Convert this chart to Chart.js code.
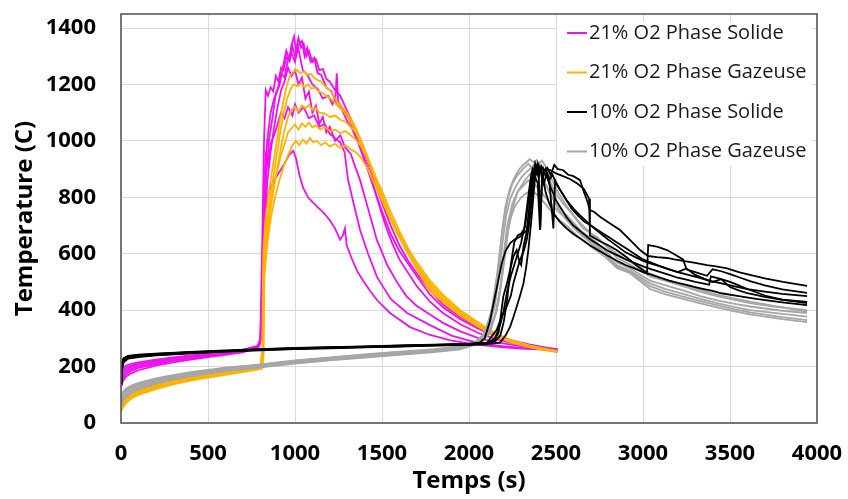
<!DOCTYPE html>
<html lang="fr">
<head>
<meta charset="utf-8">
<title>Temperature (C) / Temps (s)</title>
<script src="https://cdn.jsdelivr.net/npm/chart.js@4.4.0/dist/chart.umd.min.js"></script>
<style>
  html, body { margin: 0; padding: 0; background: #fff; }
  #wrap { width: 848px; height: 499px; }
</style>
</head>
<body>
<div id="wrap"><canvas id="chart" width="848" height="499"></canvas></div>
<script>
// ── Axis ticks ───────────────────────────────────────────────
const xTickValues = [0, 500, 1000, 1500, 2000, 2500, 3000, 3500, 4000];
const yTickValues = [0, 200, 400, 600, 800, 1000, 1200, 1400];

// ── Legend ───────────────────────────────────────────────────
const groupLabels = ['21% O2 Phase Solide', '21% O2 Phase Gazeuse', '10% O2 Phase Solide', '10% O2 Phase Gazeuse'];
const groupColors = ['#ee11ee', '#ffb300', '#000000', '#a6a6a6'];

// ── 21% O2, phase solide : [temps (s), température (C)] ──────
const sol21a = [[0,180],[10,195],[30,204],[60,210],[100,215],[200,225],[300,233],[400,240],[500,247],[600,253],[700,260],[780,270],[800,290],[812,650],[822,1000],[832,1180],[845,1160],[860,1190],[875,1175],[890,1230],[905,1210],[920,1260],[935,1250],[950,1300],[965,1285],[980,1340],[995,1370],[1005,1320],[1020,1365],[1035,1330],[1050,1345],[1065,1300],[1080,1320],[1100,1280],[1120,1290],[1140,1250],[1160,1255],[1180,1220],[1200,1210],[1230,1180],[1260,1160],[1290,1120],[1320,1080],[1350,1040],[1380,990],[1420,920],[1460,850],[1500,780],[1550,700],[1600,630],[1650,575],[1700,530],[1776,470],[1850,420],[1950,375],[2050,340],[2150,312],[2250,292],[2350,278],[2450,266],[2510,262]];
const sol21b = [[0,155],[10,178],[30,190],[60,199],[100,206],[200,218],[300,228],[400,236],[500,243],[600,250],[700,258],[785,268],[805,300],[815,600],[825,850],[840,1000],[860,1100],[880,1150],[900,1180],[920,1240],[940,1225],[960,1290],[980,1310],[1000,1280],[1020,1340],[1040,1355],[1055,1300],[1070,1330],[1090,1280],[1110,1295],[1130,1240],[1150,1235],[1180,1190],[1210,1175],[1240,1130],[1270,1110],[1300,1070],[1330,1040],[1360,1000],[1400,930],[1450,840],[1500,750],[1550,670],[1600,610],[1700,520],[1776,455],[1850,410],[1950,368],[2050,335],[2150,308],[2250,290],[2350,276],[2450,265],[2510,260]];
const sol21c = [[0,145],[10,168],[30,182],[60,192],[100,200],[200,213],[300,223],[400,232],[500,240],[600,247],[700,255],[790,270],[805,310],[815,500],[825,720],[835,880],[850,1000],[870,1080],[890,1170],[910,1195],[930,1260],[950,1320],[970,1285],[985,1335],[1000,1300],[1020,1325],[1045,1250],[1070,1235],[1100,1200],[1130,1185],[1160,1150],[1190,1160],[1215,1130],[1232,1150],[1240,1240],[1248,1140],[1280,1110],[1310,1080],[1340,1030],[1370,985],[1400,935],[1440,860],[1480,780],[1520,700],[1560,635],[1600,580],[1700,485],[1776,430],[1850,390],[1950,350],[2050,320],[2150,298],[2250,283],[2350,272],[2450,264],[2510,259]];
const sol21d = [[0,135],[10,158],[30,174],[60,186],[100,195],[200,209],[300,220],[400,229],[500,237],[600,244],[700,252],[795,273],[808,320],[818,520],[828,700],[840,850],[860,960],[880,1050],[900,1120],[920,1180],[940,1210],[960,1260],[980,1230],[1000,1250],[1020,1200],[1040,1225],[1060,1150],[1080,1175],[1100,1100],[1120,1125],[1140,1060],[1160,1085],[1180,1030],[1200,1050],[1230,1000],[1260,1020],[1290,975],[1320,955],[1345,910],[1374,861],[1420,760],[1470,650],[1530,560],[1590,495],[1640,450],[1700,415],[1776,385],[1850,355],[1950,325],[2050,302],[2150,287],[2250,277],[2350,268],[2450,262],[2510,258]];
const sol21e = [[0,165],[10,186],[30,197],[60,204],[100,210],[200,221],[300,230],[400,238],[500,245],[600,251],[700,259],[795,275],[805,300],[818,600],[830,950],[845,915],[860,990],[880,1020],[900,1060],[920,1100],[940,1080],[960,1120],[985,1090],[1000,1130],[1020,1100],[1050,1120],[1080,1080],[1110,1090],[1140,1050],[1170,1060],[1200,1025],[1230,1010],[1260,995],[1285,960],[1305,861],[1340,770],[1374,684],[1420,600],[1471,518],[1550,440],[1644,390],[1776,347],[1900,310],[2000,292],[2100,280],[2200,272],[2300,266],[2400,262],[2510,258]];
const sol21f = [[0,125],[10,148],[30,165],[60,177],[100,187],[200,203],[300,215],[400,225],[500,234],[600,242],[700,250],[785,268],[800,300],[812,450],[822,650],[835,780],[855,830],[880,860],[910,890],[940,920],[965,950],[990,965],[1005,940],[1025,880],[1046,835],[1075,800],[1103,782],[1130,765],[1161,748],[1201,718],[1230,690],[1259,650],[1275,665],[1287,690],[1297,630],[1325,585],[1356,540],[1391,505],[1430,470],[1471,436],[1546,390],[1661,340],[1776,312],[1900,292],[2000,282],[2100,274],[2200,268],[2300,264],[2400,261],[2510,258]];

// ── 21% O2, phase gazeuse ────────────────────────────────────
const gaz21a = [[0,55],[10,70],[30,88],[60,102],[100,115],[200,135],[300,150],[400,162],[500,172],[600,181],[700,190],[800,200],[812,260],[818,600],[830,720],[850,820],[870,900],[890,980],[910,1060],[930,1130],[950,1190],[970,1230],[990,1245],[1010,1252],[1030,1240],[1050,1246],[1070,1235],[1090,1238],[1110,1224],[1130,1216],[1150,1210],[1170,1196],[1190,1186],[1210,1172],[1241,1140],[1270,1120],[1300,1100],[1333,1065],[1360,1030],[1391,985],[1420,940],[1448,897],[1480,850],[1506,814],[1535,770],[1563,731],[1600,680],[1650,620],[1700,570],[1776,505],[1850,455],[1950,400],[2050,358],[2150,318],[2250,292],[2350,274],[2450,262],[2510,256]];
const gaz21b = [[0,48],[10,62],[30,80],[60,95],[100,108],[200,128],[300,143],[400,156],[500,166],[600,176],[700,185],[805,196],[815,230],[820,560],[835,690],[855,790],[875,870],[895,950],[915,1030],[935,1100],[955,1150],[975,1185],[995,1200],[1015,1193],[1035,1205],[1055,1190],[1075,1200],[1095,1185],[1115,1190],[1135,1175],[1160,1170],[1190,1155],[1220,1142],[1250,1122],[1280,1103],[1310,1078],[1340,1045],[1370,1005],[1400,960],[1430,912],[1460,862],[1500,795],[1540,735],[1580,685],[1630,628],[1700,560],[1776,495],[1850,448],[1950,395],[2050,352],[2150,315],[2250,289],[2350,271],[2450,260],[2510,254]];
const gaz21c = [[0,42],[10,56],[30,74],[60,90],[100,104],[200,124],[300,140],[400,153],[500,164],[600,174],[700,183],[810,195],[818,240],[823,530],[840,660],[860,760],[880,840],[900,910],[920,980],[940,1040],[960,1085],[980,1110],[1000,1122],[1020,1105],[1040,1125],[1060,1115],[1080,1128],[1100,1110],[1120,1118],[1140,1100],[1170,1098],[1200,1085],[1230,1090],[1260,1075],[1290,1068],[1320,1050],[1350,1030],[1380,995],[1410,950],[1440,900],[1470,855],[1510,790],[1550,730],[1590,680],[1640,625],[1700,560],[1776,488],[1850,440],[1950,390],[2050,348],[2150,312],[2250,287],[2350,270],[2450,259],[2510,253]];
const gaz21d = [[0,50],[10,66],[30,84],[60,98],[100,111],[200,131],[300,146],[400,159],[500,169],[600,178],[700,187],[805,198],[815,250],[821,580],[838,680],[858,770],[878,840],[900,900],[920,950],[940,990],[960,1030],[980,1045],[1000,1058],[1020,1040],[1040,1062],[1060,1050],[1080,1065],[1100,1048],[1120,1055],[1145,1040],[1170,1050],[1200,1035],[1230,1040],[1260,1028],[1290,1035],[1320,1020],[1350,1005],[1380,980],[1410,945],[1440,900],[1470,855],[1510,790],[1550,730],[1590,675],[1640,615],[1700,550],[1776,478],[1850,435],[1950,385],[2050,345],[2150,310],[2250,286],[2350,269],[2450,258],[2510,252]];
const gaz21e = [[0,40],[10,54],[30,72],[60,87],[100,100],[200,120],[300,137],[400,150],[500,161],[600,171],[700,180],[810,192],[818,230],[824,520],[842,640],[862,730],[885,800],[910,860],[935,910],[960,950],[985,985],[1005,1000],[1025,985],[1045,1005],[1065,990],[1085,1010],[1105,995],[1125,1000],[1150,985],[1175,995],[1200,980],[1230,990],[1260,975],[1290,985],[1320,970],[1350,960],[1380,940],[1410,910],[1440,870],[1470,830],[1510,775],[1550,720],[1590,668],[1640,610],[1700,545],[1776,468],[1850,428],[1950,380],[2050,342],[2150,308],[2250,284],[2350,268],[2450,257],[2510,251]];

// ── 10% O2, phase solide ─────────────────────────────────────
const sol10a = [[0,190],[5,215],[15,230],[40,238],[100,242],[200,246],[400,252],[600,257],[800,262],[1000,266],[1200,269],[1400,272],[1600,275],[1800,278],[2000,281],[2100,284],[2150,290],[2180,310],[2200,360],[2220,440],[2240,560],[2260,640],[2280,665],[2300,672],[2320,690],[2340,780],[2360,880],[2372,860],[2385,905],[2400,880],[2415,912],[2430,895],[2450,905],[2470,880],[2490,915],[2510,900],[2540,897],[2570,880],[2600,875],[2638,861],[2660,820],[2678,790],[2695,755],[2720,748],[2753,731],[2800,712],[2868,684],[2925,649],[2983,613],[3029,592],[3080,588],[3138,585],[3180,580],[3230,575],[3300,568],[3368,560],[3420,555],[3483,548],[3550,535],[3615,525],[3700,513],[3805,500],[3943,486]];
const sol10b = [[0,170],[5,205],[15,226],[40,235],[100,240],[200,244],[400,250],[600,255],[800,260],[1000,264],[1200,267],[1400,270],[1600,273],[1800,276],[2000,279],[2060,285],[2090,300],[2120,360],[2140,420],[2160,480],[2188,566],[2210,610],[2236,637],[2260,650],[2293,660],[2332,684],[2345,760],[2360,860],[2370,897],[2385,880],[2400,905],[2410,690],[2420,880],[2440,900],[2466,897],[2500,885],[2540,875],[2580,865],[2620,850],[2660,830],[2690,795],[2695,665],[2750,645],[2800,630],[2848,613],[2900,590],[2960,560],[3023,531],[3030,631],[3080,625],[3138,613],[3180,598],[3230,580],[3250,545],[3300,535],[3368,522],[3400,545],[3450,538],[3500,528],[3560,515],[3615,503],[3700,488],[3800,474],[3943,461]];
const sol10c = [[0,150],[5,195],[15,220],[40,230],[100,236],[200,241],[400,248],[600,254],[800,259],[1000,263],[1200,266],[1400,269],[1600,272],[1800,275],[2000,278],[2100,280],[2178,285],[2210,310],[2236,341],[2255,375],[2274,412],[2295,455],[2313,495],[2328,550],[2341,613],[2360,731],[2380,873],[2395,850],[2408,684],[2420,860],[2440,900],[2460,870],[2485,690],[2495,860],[2520,830],[2550,800],[2590,760],[2620,740],[2660,715],[2700,700],[2750,680],[2800,660],[2850,640],[2900,620],[2950,600],[3000,580],[3050,568],[3100,555],[3150,545],[3200,535],[3250,548],[3300,525],[3350,512],[3400,500],[3450,510],[3500,482],[3550,470],[3600,460],[3700,447],[3800,437],[3943,429]];
const sol10d = [[0,140],[5,185],[15,215],[40,228],[100,234],[200,240],[400,247],[600,253],[800,258],[1000,262],[1200,265],[1400,268],[1600,271],[1800,274],[2000,277],[2100,279],[2140,290],[2170,320],[2197,448],[2220,500],[2236,542],[2255,590],[2274,613],[2290,570],[2300,560],[2313,625],[2332,680],[2351,731],[2370,850],[2385,910],[2400,870],[2415,900],[2430,850],[2445,880],[2460,850],[2480,820],[2500,790],[2530,760],[2560,730],[2600,700],[2650,675],[2700,650],[2750,630],[2800,610],[2850,595],[2900,580],[2950,568],[3000,555],[3050,545],[3100,535],[3150,525],[3200,515],[3250,508],[3300,500],[3350,494],[3380,490],[3390,520],[3450,510],[3500,500],[3550,488],[3600,475],[3700,452],[3800,437],[3943,425]];
const sol10e = [[0,160],[5,200],[15,224],[40,232],[100,238],[200,243],[400,249],[600,255],[800,260],[1000,264],[1200,267],[1400,270],[1600,273],[1800,276],[2000,279],[2100,282],[2159,330],[2190,380],[2216,412],[2240,450],[2255,495],[2275,540],[2293,578],[2315,610],[2332,649],[2345,700],[2358,800],[2368,880],[2380,920],[2395,890],[2410,905],[2425,870],[2440,820],[2460,780],[2490,740],[2520,715],[2560,690],[2600,670],[2650,650],[2700,628],[2750,610],[2800,592],[2850,575],[2900,560],[2950,548],[3000,535],[3050,525],[3100,515],[3150,505],[3200,497],[3250,490],[3300,482],[3350,475],[3400,468],[3450,460],[3550,450],[3650,440],[3800,428],[3943,418]];
const sol10f = [[0,180],[5,210],[15,228],[40,236],[100,241],[200,245],[400,251],[600,256],[800,261],[1000,265],[1200,268],[1400,271],[1600,274],[1800,277],[2000,280],[2100,283],[2150,300],[2180,350],[2200,400],[2220,470],[2240,520],[2260,560],[2280,600],[2300,640],[2320,700],[2340,800],[2355,870],[2365,900],[2380,880],[2395,920],[2410,890],[2425,905],[2440,880],[2460,860],[2480,880],[2500,850],[2530,820],[2560,790],[2600,760],[2640,735],[2680,712],[2720,690],[2760,670],[2800,650],[2850,628],[2900,605],[2950,590],[3000,575],[3040,566],[3100,555],[3150,545],[3200,535],[3260,525],[3320,515],[3380,505],[3450,495],[3520,485],[3600,475],[3700,466],[3800,458],[3943,450]];

// ── 10% O2, phase gazeuse ────────────────────────────────────
const gaz10a = [[0,100],[10,110],[30,122],[60,133],[100,142],[200,158],[300,170],[400,180],[500,188],[600,196],[800,208],[1000,222],[1200,233],[1400,243],[1600,253],[1800,262],[1950,272],[2030,285],[2080,310],[2120,370],[2150,460],[2170,560],[2190,680],[2210,770],[2235,830],[2260,870],[2290,900],[2320,920],[2350,935],[2370,925],[2390,932],[2410,900],[2440,880],[2470,850],[2500,812],[2540,779],[2600,735],[2655,690],[2700,672],[2734,660],[2800,620],[2850,585],[2925,562],[3000,535],[3040,520],[3150,500],[3230,485],[3330,465],[3425,450],[3520,437],[3615,425],[3750,413],[3850,406],[3943,400]];
const gaz10b = [[0,85],[10,98],[30,112],[60,124],[100,134],[200,151],[300,164],[400,175],[500,184],[600,192],[800,204],[1000,218],[1200,229],[1400,239],[1600,249],[1800,258],[1950,268],[2040,285],[2090,320],[2130,400],[2160,520],[2180,620],[2200,720],[2225,800],[2250,850],[2280,880],[2310,900],[2340,920],[2360,905],[2385,915],[2400,890],[2430,860],[2460,820],[2500,780],[2540,750],[2600,710],[2655,675],[2734,640],[2800,600],[2850,570],[2925,548],[3040,505],[3130,488],[3230,470],[3330,450],[3425,435],[3520,423],[3615,413],[3800,398],[3943,390]];
const gaz10c = [[0,75],[10,90],[30,105],[60,118],[100,129],[200,147],[300,161],[400,172],[500,181],[600,189],[800,201],[1000,215],[1200,226],[1400,236],[1600,246],[1800,255],[1950,265],[2050,290],[2100,320],[2150,380],[2180,480],[2200,600],[2220,700],[2250,780],[2280,820],[2310,840],[2340,860],[2370,850],[2400,830],[2440,800],[2480,770],[2540,735],[2600,700],[2655,665],[2734,630],[2800,590],[2850,560],[2925,540],[3040,495],[3130,475],[3230,458],[3330,440],[3425,425],[3520,412],[3615,400],[3800,387],[3943,377]];
const gaz10d = [[0,65],[10,82],[30,98],[60,112],[100,124],[200,143],[300,157],[400,168],[500,178],[600,186],[800,199],[1000,213],[1200,224],[1400,234],[1600,244],[1800,253],[1950,263],[2060,288],[2110,330],[2150,420],[2175,540],[2195,650],[2215,740],[2240,800],[2270,840],[2300,870],[2330,890],[2360,905],[2380,920],[2400,895],[2430,860],[2470,810],[2510,762],[2560,720],[2620,680],[2700,638],[2780,600],[2850,555],[2925,535],[3040,485],[3130,465],[3230,448],[3330,432],[3425,418],[3520,404],[3615,392],[3800,375],[3943,365]];
const gaz10e = [[0,55],[10,75],[30,92],[60,107],[100,119],[200,139],[300,154],[400,165],[500,175],[600,184],[800,197],[1000,211],[1200,222],[1400,232],[1600,242],[1800,251],[1950,261],[2070,285],[2120,320],[2160,400],[2190,520],[2210,640],[2235,720],[2265,770],[2300,800],[2330,815],[2360,825],[2390,810],[2420,790],[2460,760],[2500,730],[2560,700],[2620,665],[2700,625],[2780,590],[2850,550],[2925,531],[3040,475],[3130,456],[3230,440],[3330,424],[3425,410],[3520,397],[3615,385],[3800,368],[3943,358]];
const gaz10f = [[0,92],[10,104],[30,117],[60,128],[100,138],[200,155],[300,167],[400,178],[500,186],[600,194],[800,206],[1000,220],[1200,231],[1400,241],[1600,251],[1800,260],[1950,270],[2080,290],[2130,340],[2170,430],[2200,560],[2225,680],[2250,760],[2280,820],[2320,860],[2360,890],[2400,920],[2420,930],[2440,910],[2470,870],[2510,820],[2560,770],[2620,722],[2700,672],[2780,632],[2850,600],[2925,572],[3040,530],[3130,508],[3230,490],[3330,472],[3425,455],[3520,442],[3615,430],[3800,410],[3943,395]];

const groupLines = [
  [sol21a, sol21b, sol21c, sol21d, sol21e, sol21f],
  [gaz21a, gaz21b, gaz21c, gaz21d, gaz21e],
  [sol10a, sol10b, sol10c, sol10d, sol10e, sol10f],
  [gaz10a, gaz10b, gaz10c, gaz10d, gaz10e, gaz10f]
];
// drawing order: magenta at the bottom, black on top
const groupOrder = [4, 3, 1, 2];

const datasets = [];
groupLines.forEach((lines, g) => {
  lines.forEach(line => datasets.push({
    label: groupLabels[g],
    data: line,
    borderColor: groupColors[g],
    borderWidth: 1.8,
    pointRadius: 0,
    tension: 0,
    fill: false,
    order: groupOrder[g]
  }));
});

Chart.defaults.font.family = "'Open Sans', 'DejaVu Sans', sans-serif";
Chart.defaults.color = '#000';

// ── Plot frame (Excel style box) ─────────────────────────────
const frameBox = {
  id: 'frameBox',
  afterDatasetsDraw(chart) {
    const {ctx, chartArea: a} = chart;
    ctx.save();
    ctx.strokeStyle = '#595959';
    ctx.lineWidth = 1.6;
    ctx.strokeRect(a.left, a.top, a.right - a.left, a.bottom - a.top);
    ctx.restore();
  }
};

// ── Legend inside the plot, top right ────────────────────────
const insideLegend = {
  id: 'insideLegend',
  afterDraw(chart) {
    const {ctx, chartArea: a} = chart;
    const boxLeft = a.right - 260;
    ctx.save();
    ctx.fillStyle = '#fff';
    ctx.fillRect(boxLeft, a.top + 8, 255, 144);
    ctx.font = "20px 'Open Sans', sans-serif";
    ctx.textBaseline = 'middle';
    ctx.textAlign = 'left';
    groupLabels.forEach((label, i) => {
      const y = a.top + 19 + i * 39.5;
      ctx.strokeStyle = groupColors[i];
      ctx.lineWidth = 2;
      ctx.beginPath();
      ctx.moveTo(boxLeft + 10, y);
      ctx.lineTo(boxLeft + 30, y);
      ctx.stroke();
      ctx.fillStyle = '#1a1a1a';
      ctx.fillText(label, boxLeft + 32, y);
    });
    ctx.restore();
  }
};

new Chart(document.getElementById('chart'), {
  type: 'line',
  data: { datasets },
  options: {
    responsive: false,
    animation: false,
    layout: { padding: { top: 14, right: 31, bottom: 0, left: 0 } },
    plugins: { legend: { display: false }, tooltip: { enabled: false } },
    scales: {
      x: {
        type: 'linear',
        min: 0, max: 4000,
        afterBuildTicks: s => { s.ticks = xTickValues.map(v => ({ value: v })); },
        afterFit: s => { s.height = 76; s.paddingLeft = 0; s.paddingRight = 0; },
        grid: { color: '#d9d9d9', lineWidth: 1, drawTicks: false },
        border: { display: false },
        ticks: { font: { size: 22, weight: 'bold' }, padding: 18, maxRotation: 0, autoSkip: false, callback: v => String(v) },
        title: { display: true, text: 'Temps (s)', font: { size: 24, weight: 'bold' }, padding: { top: 0, bottom: 3 } }
      },
      y: {
        type: 'linear',
        min: 0, max: 1450,
        afterBuildTicks: s => { s.ticks = yTickValues.map(v => ({ value: v })); },
        afterFit: s => { s.width = 121; s.paddingTop = 0; s.paddingBottom = 0; },
        grid: { color: '#d9d9d9', lineWidth: 1, drawTicks: false },
        border: { display: false },
        ticks: { font: { size: 22, weight: 'bold' }, padding: 25, callback: v => String(v) },
        title: { display: true, text: 'Temperature (C)', font: { size: 24, weight: 'bold' }, padding: { top: 11, bottom: 0 } }
      }
    }
  },
  plugins: [frameBox, insideLegend]
});
</script>
</body>
</html>
